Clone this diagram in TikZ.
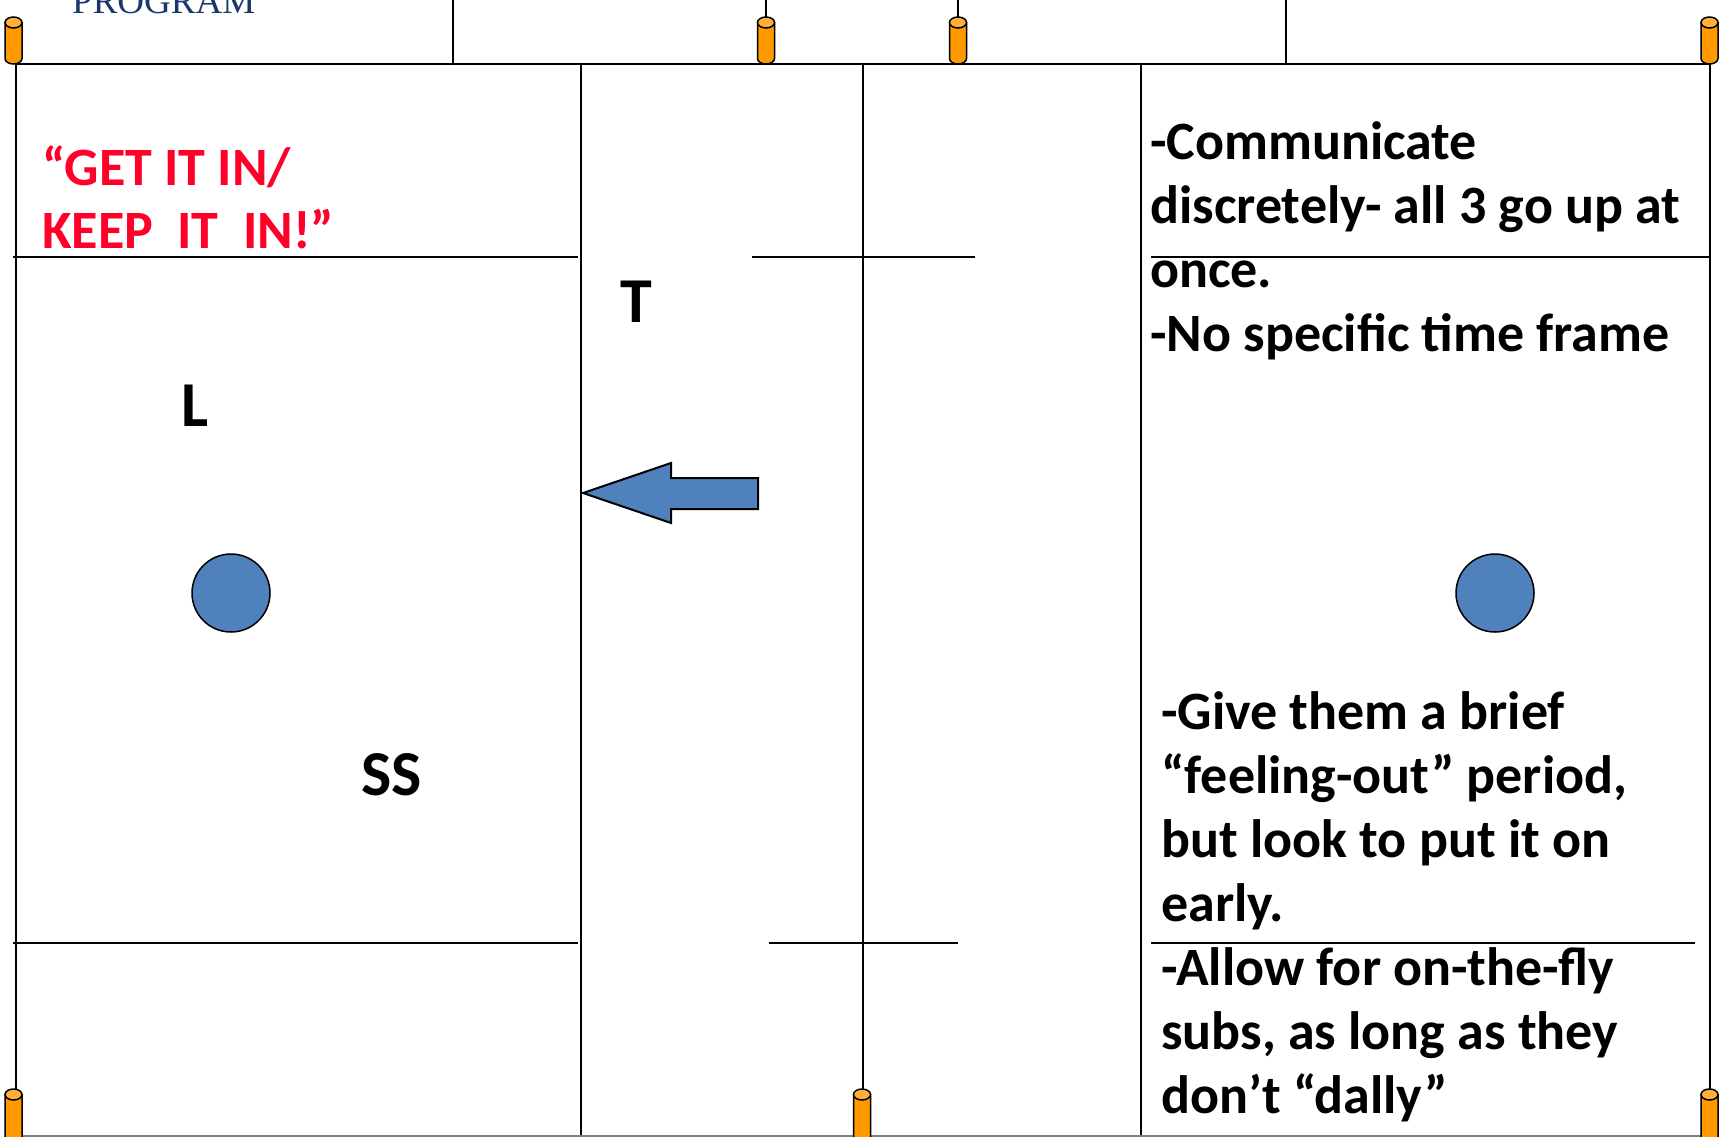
\documentclass[tikz,border=0pt]{standalone}
\usepackage{fontspec}
\setmainfont{Carlito}
\newfontfamily\logofont{Liberation Serif}
\definecolor{coneor}{RGB}{255,153,0}
\definecolor{conetop}{RGB}{255,176,56}
\definecolor{pblue}{RGB}{79,129,189}
\definecolor{tred}{RGB}{255,0,40}
\definecolor{logoblue}{RGB}{24,56,108}
\begin{document}
\begin{tikzpicture}[x=1pt,y=-1pt,
  fieldline/.style={line width=2pt, line cap=rect},
  txt/.style={inner sep=0pt, anchor=base west, font=\fontsize{54}{64}\selectfont\bfseries},
  lbl/.style={inner sep=0pt, anchor=base west, font=\fontsize{64}{77}\selectfont\bfseries},
  conebody/.style={draw=black, line width=1.5pt, fill=coneor},
  conecap/.style={draw=black, line width=1.5pt, fill=conetop},
  ball/.style={circle, draw=black, line width=1.5pt, fill=pblue, minimum size=78pt, inner sep=0pt},
  movearrow/.style={draw=black, line width=2pt, fill=pblue, line join=miter}]
\useasboundingbox (0,0) rectangle (1719,1136);

% logo fragment
\node[inner sep=0pt, anchor=base west, font=\logofont\fontsize{37}{40}\selectfont, text=logoblue] (logo) at (72,13) {PROGRAM};

% field lines
\draw[fieldline] (16,64) -- (1710,64);
\draw[fieldline] (16,64) -- (16,1089);
\draw[fieldline] (581,64) -- (581,1140);
\draw[fieldline] (862.5,64) -- (862.5,1089);
\draw[fieldline] (1141,64) -- (1141,1140);
\draw[fieldline] (1710,64) -- (1710,1089);
\draw[fieldline] (453,-2) -- (453,64);
\draw[fieldline] (1286,-2) -- (1286,64);
\draw[fieldline] (766,-2) -- (766,20);
\draw[fieldline] (958,-2) -- (958,20);
\draw[fieldline] (14,256.5) -- (577,256.5);
\draw[fieldline] (753,256.5) -- (974,256.5);
\draw[fieldline] (1152,256.5) -- (1710,256.5);
\draw[fieldline] (14,943) -- (577,943);
\draw[fieldline] (770,943) -- (957,943);
\draw[fieldline] (1152,943) -- (1694,943);
\draw[line width=2pt, gray] (16,1136) -- (1710,1136);

% cones
\foreach \cx/\ct/\cb in {13.5/17/64, 766/17/64, 958/17/64, 1709.5/17/64, 13.5/1089/1160, 862/1089/1160, 1709.5/1089/1160}{
  \draw[conebody] (\cx-8.5,\ct+5.5) -- (\cx-8.5,\cb-5.5)
     arc[start angle=180, end angle=360, x radius=8.5pt, y radius=5.5pt]
     -- (\cx+8.5,\ct+5.5) -- cycle;
  \draw[conecap] (\cx,\ct+5.5) ellipse[x radius=8.5pt, y radius=5.5pt];
}

% balls
\node[ball] (ballL) at (231,593) {};
\node[ball] (ballR) at (1495,593) {};

% arrow
\draw[movearrow] (583,493) -- (671,463) -- (671,478) -- (758,478) -- (758,509) -- (671,509) -- (671,523) -- cycle;

% labels
\node[txt, text=tred] (red1) at (42,185) {“GET IT IN/};
\node[txt, text=tred] (red2) at (42,248) {KEEP\ \ IT\ \ IN!”};
\node[lbl] (T) at (620,322) {T};
\node[lbl] (L) at (181,426) {L};
\node[lbl] (SS) at (361,795) {SS};

% upper notes
\node[txt] (c1) at (1150,159) {-Communicate};
\node[txt] (c2) at (1150,223) {discretely- all 3 go up at};
\node[txt] (c3) at (1150,287) {once.};
\node[txt] (c4) at (1150,351) {-No specific time frame};

% lower notes
\node[txt] (g1) at (1161,729) {-Give them a brief};
\node[txt] (g2) at (1161,793) {“feeling-out” period,};
\node[txt] (g3) at (1161,857) {but look to put it on};
\node[txt] (g4) at (1161,921) {early.};
\node[txt] (g5) at (1161,985) {-Allow for on-the-fly};
\node[txt] (g6) at (1161,1049) {subs, as long as they};
\node[txt] (g7) at (1161,1113) {don’t “dally”};
\end{tikzpicture}
\end{document}
